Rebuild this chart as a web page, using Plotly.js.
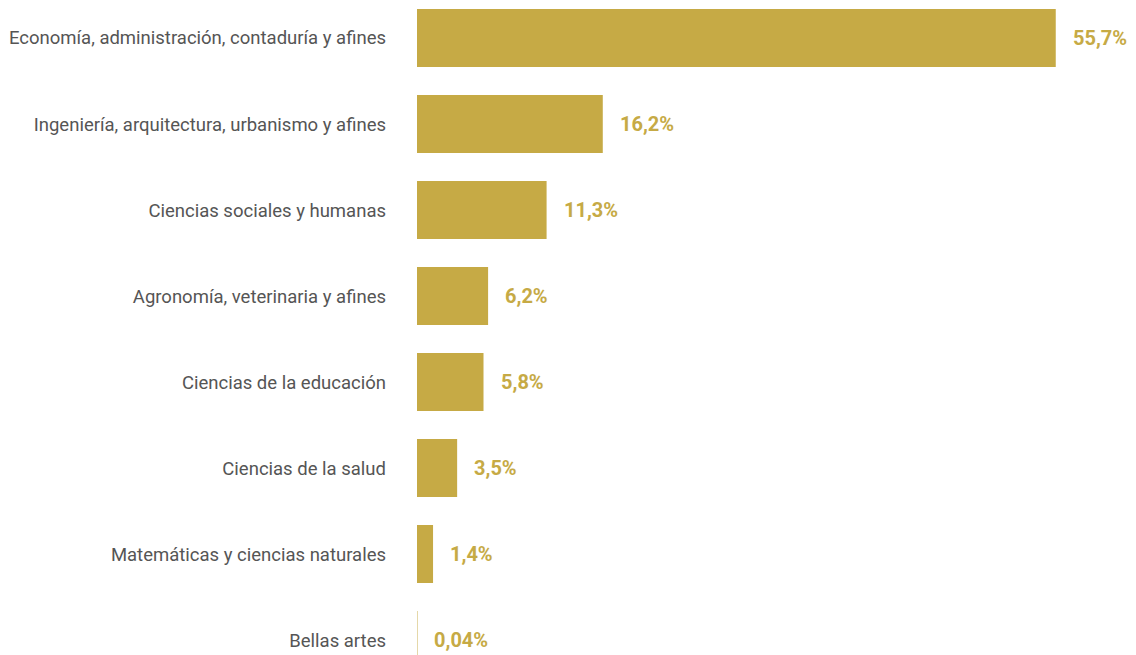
<!DOCTYPE html>
<html>
<head>
<meta charset="utf-8">
<script src="https://cdn.plot.ly/plotly-3.0.1.min.js"></script>
<style>html,body{margin:0;padding:0;background:#fff;}#chart{width:1136px;height:655px;}</style>
</head>
<body>
<div id="chart"></div>
<script>
const categories = [
  "Economía, administración, contaduría y afines",
  "Ingeniería, arquitectura, urbanismo y afines",
  "Ciencias sociales y humanas",
  "Agronomía, veterinaria y afines",
  "Ciencias de la educación",
  "Ciencias de la salud",
  "Matemáticas y ciencias naturales",
  "Bellas artes"
];
const values = [55.7, 16.2, 11.3, 6.2, 5.8, 3.5, 1.4, 0.04];
const valueLabels = ["55,7%", "16,2%", "11,3%", "6,2%", "5,8%", "3,5%", "1,4%", "0,04%"];

const gold = "#C6AA45";

const trace = {
  type: "bar",
  orientation: "h",
  x: values,
  y: categories,
  marker: {color: gold, line: {width: 0}},
  width: 0.675,
  hoverinfo: "skip"
};

const annotations = values.map((v, i) => ({
  x: v, y: categories[i], xref: "x", yref: "y",
  text: valueLabels[i], showarrow: false,
  xanchor: "left", yanchor: "middle", xshift: 15,
  font: {family: "Roboto", size: 20, color: gold, weight: 700}
}));

const layout = {
  width: 1136, height: 655,
  margin: {l: 417, r: 8, t: 0, b: 0},
  paper_bgcolor: "#fff", plot_bgcolor: "#fff",
  showlegend: false,
  xaxis: {range: [0, 62], visible: false, fixedrange: true},
  yaxis: {
    type: "category",
    range: [7.174, -0.442],
    showgrid: false, zeroline: false, showline: false,
    ticks: "", ticklabelstandoff: 30,
    tickfont: {family: "Roboto", size: 18.5, color: "#555"}
  },
  annotations: annotations
};

Plotly.newPlot("chart", [trace], layout, {displayModeBar: false, staticPlot: true});
</script>
</body>
</html>
